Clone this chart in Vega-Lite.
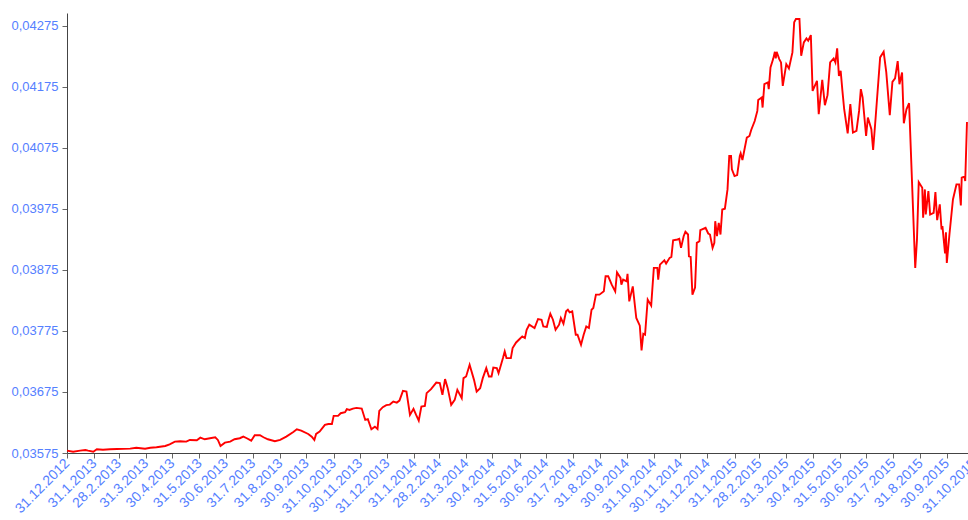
{
  "$schema": "https://vega.github.io/schema/vega-lite/v6.json",
  "autosize": "none",
  "padding": {"left": 67, "top": 13, "right": 0, "bottom": 67},
  "width": 901,
  "height": 440,
  "background": "white",
  "config": {
    "view": {"stroke": null},
    "axis": {"labelFont": "Liberation Sans", "labelFontSize": 13, "labelColor": "#5580ff", "grid": false, "title": null, "domainColor": "#444444", "tickColor": "#666666", "tickSize": 5}
  },
  "data": {"values": [
    {"d":"2012-12-31","v":0.035788},{"d":"2013-01-07","v":0.035771},{"d":"2013-01-15","v":0.035788},{"d":"2013-01-21","v":0.035799},{"d":"2013-01-24","v":0.035788},{"d":"2013-01-30","v":0.035771},{"d":"2013-02-03","v":0.035811},{"d":"2013-02-10","v":0.035804},{"d":"2013-02-18","v":0.035811},{"d":"2013-02-26","v":0.035816},{"d":"2013-03-13","v":0.035821},{"d":"2013-03-20","v":0.035837},{"d":"2013-03-30","v":0.035821},{"d":"2013-04-05","v":0.035837},{"d":"2013-04-12","v":0.035844},{"d":"2013-04-22","v":0.035865},{"d":"2013-04-27","v":0.035893},{"d":"2013-05-03","v":0.035936},{"d":"2013-05-09","v":0.035942},{"d":"2013-05-16","v":0.035936},{"d":"2013-05-20","v":0.035964},{"d":"2013-05-28","v":0.035959},{"d":"2013-06-01","v":0.036001},{"d":"2013-06-06","v":0.035975},{"d":"2013-06-12","v":0.035992},{"d":"2013-06-18","v":0.036008},{"d":"2013-06-21","v":0.035964},{"d":"2013-06-24","v":0.035865},{"d":"2013-06-29","v":0.035919},{"d":"2013-07-05","v":0.035936},{"d":"2013-07-10","v":0.035975},{"d":"2013-07-16","v":0.035992},{"d":"2013-07-20","v":0.036018},{"d":"2013-07-24","v":0.035992},{"d":"2013-07-29","v":0.035952},{"d":"2013-08-02","v":0.036041},{"d":"2013-08-08","v":0.036041},{"d":"2013-08-12","v":0.036008},{"d":"2013-08-17","v":0.035975},{"d":"2013-08-25","v":0.035942},{"d":"2013-08-31","v":0.035964},{"d":"2013-09-07","v":0.036018},{"d":"2013-09-15","v":0.036095},{"d":"2013-09-19","v":0.036139},{"d":"2013-09-24","v":0.036116},{"d":"2013-10-02","v":0.036062},{"d":"2013-10-06","v":0.036018},{"d":"2013-10-09","v":0.035964},{"d":"2013-10-11","v":0.036062},{"d":"2013-10-15","v":0.0361},{"d":"2013-10-21","v":0.03621},{"d":"2013-10-25","v":0.036226},{"d":"2013-10-29","v":0.036226},{"d":"2013-10-31","v":0.036358},{"d":"2013-11-05","v":0.036358},{"d":"2013-11-08","v":0.036402},{"d":"2013-11-13","v":0.036419},{"d":"2013-11-15","v":0.036468},{"d":"2013-11-18","v":0.036456},{"d":"2013-11-22","v":0.036478},{"d":"2013-11-26","v":0.036489},{"d":"2013-12-02","v":0.036478},{"d":"2013-12-06","v":0.036292},{"d":"2013-12-09","v":0.036304},{"d":"2013-12-13","v":0.036139},{"d":"2013-12-17","v":0.036182},{"d":"2013-12-20","v":0.036144},{"d":"2013-12-22","v":0.03644},{"d":"2013-12-26","v":0.036501},{"d":"2013-12-30","v":0.036534},{"d":"2014-01-03","v":0.036544},{"d":"2014-01-07","v":0.036593},{"d":"2014-01-11","v":0.036576},{"d":"2014-01-14","v":0.036609},{"d":"2014-01-18","v":0.036769},{"d":"2014-01-22","v":0.036757},{"d":"2014-01-26","v":0.036374},{"d":"2014-01-30","v":0.036473},{"d":"2014-02-02","v":0.036374},{"d":"2014-02-05","v":0.036281},{"d":"2014-02-08","v":0.036511},{"d":"2014-02-12","v":0.036522},{"d":"2014-02-14","v":0.036731},{"d":"2014-02-19","v":0.036797},{"d":"2014-02-25","v":0.036905},{"d":"2014-03-01","v":0.036895},{"d":"2014-03-04","v":0.036703},{"d":"2014-03-07","v":0.036961},{"d":"2014-03-10","v":0.036813},{"d":"2014-03-14","v":0.036539},{"d":"2014-03-18","v":0.036621},{"d":"2014-03-21","v":0.036785},{"d":"2014-03-26","v":0.036649},{"d":"2014-03-28","v":0.036977},{"d":"2014-03-31","v":0.037004},{"d":"2014-04-04","v":0.037196},{"d":"2014-04-09","v":0.036949},{"d":"2014-04-12","v":0.036757},{"d":"2014-04-16","v":0.036813},{"d":"2014-04-19","v":0.036977},{"d":"2014-04-23","v":0.037142},{"d":"2014-04-26","v":0.037004},{"d":"2014-04-29","v":0.037004},{"d":"2014-05-01","v":0.037151},{"d":"2014-05-05","v":0.037142},{"d":"2014-05-07","v":0.037059},{"d":"2014-05-12","v":0.037306},{"d":"2014-05-14","v":0.037414},{"d":"2014-05-16","v":0.037306},{"d":"2014-05-21","v":0.037306},{"d":"2014-05-23","v":0.03747},{"d":"2014-05-27","v":0.037562},{"d":"2014-05-31","v":0.037618},{"d":"2014-06-03","v":0.037661},{"d":"2014-06-06","v":0.037634},{"d":"2014-06-08","v":0.037771},{"d":"2014-06-11","v":0.037853},{"d":"2014-06-17","v":0.037799},{"d":"2014-06-21","v":0.037947},{"d":"2014-06-25","v":0.037935},{"d":"2014-06-27","v":0.037825},{"d":"2014-07-01","v":0.037815},{"d":"2014-07-03","v":0.037935},{"d":"2014-07-05","v":0.038034},{"d":"2014-07-08","v":0.037935},{"d":"2014-07-11","v":0.037771},{"d":"2014-07-15","v":0.037853},{"d":"2014-07-17","v":0.037963},{"d":"2014-07-20","v":0.037869},{"d":"2014-07-23","v":0.038072},{"d":"2014-07-25","v":0.038099},{"d":"2014-07-27","v":0.038055},{"d":"2014-07-30","v":0.038072},{"d":"2014-08-03","v":0.037689},{"d":"2014-08-05","v":0.037689},{"d":"2014-08-09","v":0.037524},{"d":"2014-08-12","v":0.037689},{"d":"2014-08-15","v":0.037825},{"d":"2014-08-18","v":0.037799},{"d":"2014-08-21","v":0.038099},{"d":"2014-08-23","v":0.038127},{"d":"2014-08-26","v":0.038346},{"d":"2014-08-30","v":0.038346},{"d":"2014-09-04","v":0.0384},{"d":"2014-09-06","v":0.038647},{"d":"2014-09-09","v":0.038647},{"d":"2014-09-13","v":0.03851},{"d":"2014-09-17","v":0.0384},{"d":"2014-09-19","v":0.038712},{"d":"2014-09-23","v":0.03862},{"d":"2014-09-24","v":0.03851},{"d":"2014-09-26","v":0.038592},{"d":"2014-09-30","v":0.038564},{"d":"2014-10-01","v":0.038686},{"d":"2014-10-03","v":0.038236},{"d":"2014-10-07","v":0.038482},{"d":"2014-10-11","v":0.037963},{"d":"2014-10-15","v":0.037837},{"d":"2014-10-17","v":0.037431},{"d":"2014-10-19","v":0.037705},{"d":"2014-10-21","v":0.037689},{"d":"2014-10-24","v":0.038264},{"d":"2014-10-28","v":0.038165},{"d":"2014-10-31","v":0.038785},{"d":"2014-11-04","v":0.038785},{"d":"2014-11-05","v":0.038592},{"d":"2014-11-07","v":0.038839},{"d":"2014-11-12","v":0.03891},{"d":"2014-11-14","v":0.038855},{"d":"2014-11-18","v":0.038949},{"d":"2014-11-20","v":0.038965},{"d":"2014-11-22","v":0.039238},{"d":"2014-11-27","v":0.03925},{"d":"2014-11-29","v":0.039261},{"d":"2014-12-01","v":0.039113},{"d":"2014-12-04","v":0.039304},{"d":"2014-12-06","v":0.039376},{"d":"2014-12-09","v":0.039332},{"d":"2014-12-10","v":0.038975},{"d":"2014-12-12","v":0.038965},{"d":"2014-12-14","v":0.038346},{"d":"2014-12-17","v":0.038461},{"d":"2014-12-19","v":0.039195},{"d":"2014-12-22","v":0.039222},{"d":"2014-12-23","v":0.039402},{"d":"2014-12-29","v":0.039442},{"d":"2015-01-01","v":0.039348},{"d":"2015-01-03","v":0.039332},{"d":"2015-01-06","v":0.039113},{"d":"2015-01-08","v":0.039195},{"d":"2015-01-09","v":0.03955},{"d":"2015-01-11","v":0.039304},{"d":"2015-01-13","v":0.039524},{"d":"2015-01-15","v":0.039332},{"d":"2015-01-17","v":0.039742},{"d":"2015-01-20","v":0.039754},{"d":"2015-01-23","v":0.040071},{"d":"2015-01-25","v":0.040618},{"d":"2015-01-27","v":0.040618},{"d":"2015-01-28","v":0.0404},{"d":"2015-01-31","v":0.04029},{"d":"2015-02-03","v":0.040306},{"d":"2015-02-06","v":0.040618},{"d":"2015-02-07","v":0.040663},{"d":"2015-02-09","v":0.040553},{"d":"2015-02-11","v":0.0407},{"d":"2015-02-14","v":0.040921},{"d":"2015-02-17","v":0.040947},{"d":"2015-02-19","v":0.041045},{"d":"2015-02-23","v":0.041193},{"d":"2015-02-26","v":0.041358},{"d":"2015-02-27","v":0.041538},{"d":"2015-03-03","v":0.041578},{"d":"2015-03-04","v":0.041413},{"d":"2015-03-06","v":0.041796},{"d":"2015-03-10","v":0.041824},{"d":"2015-03-11","v":0.041714},{"d":"2015-03-13","v":0.042071},{"d":"2015-03-16","v":0.042207},{"d":"2015-03-18","v":0.042327},{"d":"2015-03-19","v":0.042219},{"d":"2015-03-20","v":0.042327},{"d":"2015-03-23","v":0.042207},{"d":"2015-03-25","v":0.042153},{"d":"2015-03-27","v":0.041768},{"d":"2015-03-31","v":0.042125},{"d":"2015-04-03","v":0.042054},{"d":"2015-04-07","v":0.042317},{"d":"2015-04-09","v":0.04281},{"d":"2015-04-11","v":0.042864},{"d":"2015-04-15","v":0.042864},{"d":"2015-04-17","v":0.042261},{"d":"2015-04-20","v":0.042481},{"d":"2015-04-23","v":0.042547},{"d":"2015-04-25","v":0.042508},{"d":"2015-04-28","v":0.042601},{"d":"2015-04-30","v":0.041686},{"d":"2015-05-05","v":0.04185},{"d":"2015-05-07","v":0.041303},{"d":"2015-05-11","v":0.041867},{"d":"2015-05-14","v":0.041451},{"d":"2015-05-17","v":0.041616},{"d":"2015-05-20","v":0.042153},{"d":"2015-05-24","v":0.042219},{"d":"2015-05-26","v":0.042153},{"d":"2015-05-28","v":0.042383},{"d":"2015-05-30","v":0.041933},{"d":"2015-06-01","v":0.042015},{"d":"2015-06-03","v":0.041686},{"d":"2015-06-05","v":0.041385},{"d":"2015-06-09","v":0.040991},{"d":"2015-06-12","v":0.041468},{"d":"2015-06-15","v":0.041003},{"d":"2015-06-19","v":0.041029},{"d":"2015-06-22","v":0.041358},{"d":"2015-06-24","v":0.041714},{"d":"2015-06-26","v":0.041578},{"d":"2015-06-30","v":0.040947},{"d":"2015-07-02","v":0.041249},{"d":"2015-07-06","v":0.041057},{"d":"2015-07-08","v":0.040717},{"d":"2015-07-11","v":0.041275},{"d":"2015-07-16","v":0.042235},{"d":"2015-07-20","v":0.042327},{"d":"2015-07-23","v":0.041989},{"d":"2015-07-27","v":0.041287},{"d":"2015-07-30","v":0.041834},{"d":"2015-08-02","v":0.04189},{"d":"2015-08-05","v":0.042174},{"d":"2015-08-07","v":0.041796},{"d":"2015-08-10","v":0.041989},{"d":"2015-08-12","v":0.041155},{"d":"2015-08-15","v":0.041385},{"d":"2015-08-18","v":0.041484},{"d":"2015-08-25","v":0.038785},{"d":"2015-08-27","v":0.03925},{"d":"2015-08-29","v":0.040191},{"d":"2015-09-02","v":0.040099},{"d":"2015-09-03","v":0.039606},{"d":"2015-09-05","v":0.040071},{"d":"2015-09-06","v":0.03966},{"d":"2015-09-09","v":0.040043},{"d":"2015-09-11","v":0.03966},{"d":"2015-09-15","v":0.039688},{"d":"2015-09-17","v":0.040027},{"d":"2015-09-19","v":0.039567},{"d":"2015-09-22","v":0.039825},{"d":"2015-09-24","v":0.039414},{"d":"2015-09-25","v":0.039468},{"d":"2015-09-28","v":0.03902},{"d":"2015-09-29","v":0.03937},{"d":"2015-09-30","v":0.038867},{"d":"2015-10-03","v":0.039332},{"d":"2015-10-07","v":0.039907},{"d":"2015-10-11","v":0.040153},{"d":"2015-10-14","v":0.040153},{"d":"2015-10-16","v":0.039808},{"d":"2015-10-17","v":0.040263},{"d":"2015-10-20","v":0.04028},{"d":"2015-10-21","v":0.040208},{"d":"2015-10-23","v":0.041177}
  ]},
  "mark": {"type": "line", "color": "#ff0000", "strokeWidth": 1.9},
  "encoding": {
    "x": {
      "field": "d", "type": "temporal",
      "scale": {"type": "utc", "domain": [{"year": 2012, "month": 12, "date": 31, "utc": true}, {"year": 2015, "month": 10, "date": 31, "utc": true}], "range": [0, 907]},
      "axis": {
        "values": [
          {"year":2012,"month":12,"date":31,"utc":true},
          {"year":2013,"month":1,"date":31,"utc":true},{"year":2013,"month":2,"date":28,"utc":true},{"year":2013,"month":3,"date":31,"utc":true},{"year":2013,"month":4,"date":30,"utc":true},{"year":2013,"month":5,"date":31,"utc":true},{"year":2013,"month":6,"date":30,"utc":true},{"year":2013,"month":7,"date":31,"utc":true},{"year":2013,"month":8,"date":31,"utc":true},{"year":2013,"month":9,"date":30,"utc":true},{"year":2013,"month":10,"date":31,"utc":true},{"year":2013,"month":11,"date":30,"utc":true},{"year":2013,"month":12,"date":31,"utc":true},
          {"year":2014,"month":1,"date":31,"utc":true},{"year":2014,"month":2,"date":28,"utc":true},{"year":2014,"month":3,"date":31,"utc":true},{"year":2014,"month":4,"date":30,"utc":true},{"year":2014,"month":5,"date":31,"utc":true},{"year":2014,"month":6,"date":30,"utc":true},{"year":2014,"month":7,"date":31,"utc":true},{"year":2014,"month":8,"date":31,"utc":true},{"year":2014,"month":9,"date":30,"utc":true},{"year":2014,"month":10,"date":31,"utc":true},{"year":2014,"month":11,"date":30,"utc":true},{"year":2014,"month":12,"date":31,"utc":true},
          {"year":2015,"month":1,"date":31,"utc":true},{"year":2015,"month":2,"date":28,"utc":true},{"year":2015,"month":3,"date":31,"utc":true},{"year":2015,"month":4,"date":30,"utc":true},{"year":2015,"month":5,"date":31,"utc":true},{"year":2015,"month":6,"date":30,"utc":true},{"year":2015,"month":7,"date":31,"utc":true},{"year":2015,"month":8,"date":31,"utc":true},{"year":2015,"month":9,"date":30,"utc":true},{"year":2015,"month":10,"date":31,"utc":true}
        ],
        "labelExpr": "utcFormat(datum.value, '%-d.%-m.%Y')",
        "labelFontSize": 14,
        "labelAngle": -45,
        "labelAlign": "right",
        "labelBaseline": "middle",
        "labelPadding": 3,
        "labelOverlap": false,
        "labelFlush": false,
        "labelBound": false
      }
    },
    "y": {
      "field": "v", "type": "quantitative",
      "scale": {"domain": [0.03575, 0.042963], "nice": false, "zero": false},
      "axis": {
        "values": [0.03575, 0.03675, 0.03775, 0.03875, 0.03975, 0.04075, 0.04175, 0.04275],
        "labelExpr": "replace(format(datum.value, '.5f'), '.', ',')",
        "labelPadding": 4
      }
    }
  }
}
